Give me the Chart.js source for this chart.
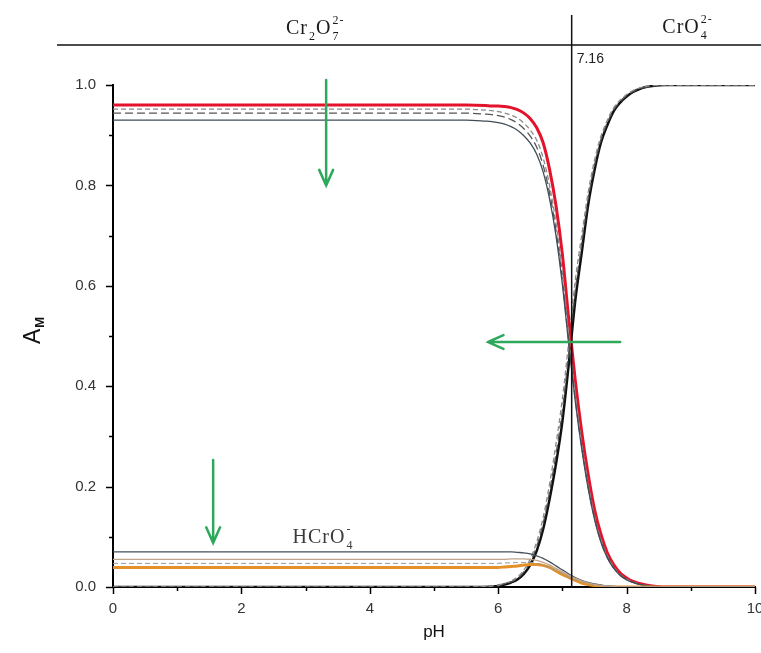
<!DOCTYPE html>
<html>
<head>
<meta charset="utf-8">
<script src="https://cdn.jsdelivr.net/npm/chart.js@4.4.1/dist/chart.umd.min.js"></script>
<style>
  body { margin: 0; background: #fff; }
</style>
</head>
<body>
<canvas id="myChart" width="761" height="653"></canvas>
<script>
const ch = document.getElementById('myChart').getContext('2d');

// pH sample points shared by every curve
const pH = [0, 1, 2, 3, 4, 5, 5.5,
    5.8, 5.9, 6.0, 6.1, 6.2, 6.3, 6.4, 6.5, 6.6, 6.7, 6.8, 6.9, 7.0, 7.1, 7.2, 7.3, 7.4,
    7.5, 7.6, 7.7, 7.8, 7.9, 8.0, 8.1, 8.2, 8.3, 8.4,
    8.6, 9, 10];

// Cr2O7 2- fraction (red = main curve, others = the grey family)
const cr2o7Red = [0.960, 0.960, 0.960, 0.960, 0.960, 0.960, 0.960,
    0.959, 0.958, 0.958, 0.957, 0.955, 0.951, 0.944, 0.933, 0.915, 0.885, 0.832, 0.760, 0.662, 0.532, 0.412, 0.310, 0.225,
    0.155, 0.105, 0.068, 0.044, 0.028, 0.018, 0.011, 0.007, 0.004, 0.002,
    0, 0, 0];
const cr2o7Gray1 = [0.952, 0.952, 0.952, 0.952, 0.952, 0.952, 0.952,
    0.950, 0.949, 0.947, 0.944, 0.940, 0.934, 0.924, 0.910, 0.890, 0.855, 0.800, 0.725, 0.625, 0.500, 0.385, 0.288, 0.207,
    0.142, 0.095, 0.062, 0.040, 0.025, 0.016, 0.010, 0.006, 0.003, 0.001,
    0, 0, 0];
const cr2o7Gray2 = [0.944, 0.944, 0.944, 0.944, 0.944, 0.944, 0.944,
    0.942, 0.941, 0.939, 0.936, 0.931, 0.924, 0.913, 0.898, 0.876, 0.840, 0.785, 0.710, 0.610, 0.488, 0.375, 0.280, 0.200,
    0.137, 0.091, 0.059, 0.038, 0.024, 0.015, 0.009, 0.005, 0.003, 0.001,
    0, 0, 0];
const cr2o7Slate = [0.930, 0.930, 0.930, 0.930, 0.930, 0.930, 0.930,
    0.928, 0.927, 0.925, 0.922, 0.917, 0.910, 0.899, 0.884, 0.862, 0.827, 0.773, 0.700, 0.602, 0.482, 0.370, 0.276, 0.197,
    0.135, 0.089, 0.058, 0.037, 0.023, 0.014, 0.009, 0.005, 0.003, 0.001,
    0, 0, 0];

// CrO4 2- fraction
const cro4Black = [0, 0, 0, 0, 0, 0, 0,
    0, 0.001, 0.002, 0.005, 0.009, 0.015, 0.026, 0.044, 0.072, 0.115, 0.175, 0.245, 0.330, 0.445, 0.570, 0.665, 0.760,
    0.830, 0.885, 0.920, 0.948, 0.965, 0.977, 0.986, 0.992, 0.996, 0.998,
    1, 1, 1];
const cro4Gray1 = [0, 0, 0, 0, 0, 0, 0,
    0.001, 0.002, 0.004, 0.007, 0.012, 0.020, 0.034, 0.056, 0.090, 0.138, 0.205, 0.285, 0.375, 0.490, 0.610, 0.700, 0.785,
    0.850, 0.898, 0.930, 0.955, 0.970, 0.981, 0.989, 0.994, 0.997, 0.999,
    1, 1, 1];
const cro4Gray2 = [0, 0, 0, 0, 0, 0, 0,
    0.001, 0.001, 0.003, 0.006, 0.010, 0.017, 0.030, 0.050, 0.081, 0.127, 0.190, 0.265, 0.352, 0.468, 0.590, 0.683, 0.772,
    0.840, 0.891, 0.925, 0.951, 0.967, 0.979, 0.987, 0.993, 0.996, 0.998,
    1, 1, 1];

// HCrO4 - fraction
const hcro4Slate = [0.070, 0.070, 0.070, 0.070, 0.070, 0.070, 0.070,
    0.070, 0.070, 0.070, 0.070, 0.070, 0.069, 0.068, 0.066, 0.062, 0.057, 0.050, 0.042, 0.034, 0.026, 0.019, 0.013, 0.009,
    0.006, 0.004, 0.002, 0.001, 0.0005, 0, 0, 0, 0, 0,
    0, 0, 0];
const hcro4Tan = [0.055, 0.055, 0.055, 0.055, 0.055, 0.055, 0.055,
    0.055, 0.055, 0.055, 0.055, 0.056, 0.056, 0.056, 0.055, 0.053, 0.049, 0.044, 0.037, 0.030, 0.023, 0.017, 0.012, 0.008,
    0.005, 0.003, 0.002, 0.001, 0, 0, 0, 0, 0, 0,
    0, 0, 0];
const hcro4Gray = [0.047, 0.047, 0.047, 0.047, 0.047, 0.047, 0.047,
    0.047, 0.047, 0.047, 0.048, 0.048, 0.049, 0.049, 0.049, 0.047, 0.044, 0.039, 0.033, 0.027, 0.020, 0.015, 0.010, 0.007,
    0.004, 0.002, 0.001, 0.0005, 0, 0, 0, 0, 0, 0,
    0, 0, 0];
const hcro4Orange = [0.039, 0.039, 0.039, 0.039, 0.039, 0.039, 0.039,
    0.039, 0.039, 0.039, 0.040, 0.041, 0.042, 0.044, 0.045, 0.045, 0.043, 0.039, 0.032, 0.025, 0.019, 0.013, 0.008, 0.005,
    0.003, 0.0015, 0.0005, 0, 0, 0, 0, 0, 0, 0,
    0, 0, 0];

// axis ticks
const xTicks = [0, 2, 4, 6, 8, 10];
const yTicks = [0, 0.2, 0.4, 0.6, 0.8, 1.0];

// annotations (data units)
const crossPH = 7.16;
const arrows = [
    { from: [3.32, 1.01], to: [3.32, 0.80] },
    { from: [1.56, 0.253], to: [1.56, 0.088] },
    { from: [7.90, 0.488], to: [5.84, 0.488] },
];

function pts(ys) {
    return pH.map((x, i) => ({ x: x, y: ys[i] }));
}

function line(ys, color, width, dash) {
    return {
        data: pts(ys),
        borderColor: color,
        borderWidth: width,
        borderDash: dash || [],
        pointRadius: 0,
        fill: false,
        cubicInterpolationMode: 'monotone',
    };
}

// draws text pieces with sub / super scripts, centred on cx
function drawChem(ctx, parts, cx, base, size) {
    const big = size + 'px "Liberation Serif", "Times New Roman", serif';
    const small = Math.round(size * 0.6) + 'px "Liberation Serif", "Times New Roman", serif';
    ctx.letterSpacing = '1px';
    let total = 0;
    parts.forEach(p => {
        if (p.main !== undefined) {
            ctx.font = big;
            total += ctx.measureText(p.main).width;
        } else {
            ctx.font = small;
            total += Math.max(ctx.measureText(p.sub || '').width, ctx.measureText(p.sup || '').width) + 1;
        }
    });
    let x = cx - total / 2;
    ctx.textAlign = 'left';
    ctx.textBaseline = 'alphabetic';
    parts.forEach(p => {
        if (p.main !== undefined) {
            ctx.font = big;
            ctx.fillText(p.main, x, base);
            x += ctx.measureText(p.main).width;
        } else {
            ctx.font = small;
            let w = 0;
            if (p.sub) { ctx.fillText(p.sub, x + 1, base + size * 0.3); w = ctx.measureText(p.sub).width; }
            if (p.sup) { ctx.fillText(p.sup, x + 1, base - size * 0.48); w = Math.max(w, ctx.measureText(p.sup).width); }
            x += w + 1;
        }
    });
    ctx.letterSpacing = '0px';
}

const annot = {
    id: 'annot',
    afterDatasetsDraw(chart) {
        const { ctx, chartArea, scales: { x, y } } = chart;
        ctx.save();

        // tick marks (major + minor), outward
        ctx.strokeStyle = '#000';
        ctx.lineWidth = 1.5;
        for (let v = 0; v <= 10; v += 1) {
            const px = Math.round(x.getPixelForValue(v)) + 0.5;
            const len = v % 2 === 0 ? 7 : 4;
            ctx.beginPath();
            ctx.moveTo(px, chartArea.bottom);
            ctx.lineTo(px, chartArea.bottom + len);
            ctx.stroke();
        }
        for (let k = 0; k <= 10; k++) {
            const py = Math.round(y.getPixelForValue(k / 10)) + 0.5;
            const len = k % 2 === 0 ? 7 : 4;
            ctx.beginPath();
            ctx.moveTo(chartArea.left, py);
            ctx.lineTo(chartArea.left - len, py);
            ctx.stroke();
        }

        // top separator and 7.16 marker
        const vx = x.getPixelForValue(crossPH) - 1;
        ctx.strokeStyle = '#111';
        ctx.lineWidth = 1.5;
        ctx.beginPath();
        ctx.moveTo(57, chartArea.top - 40);
        ctx.lineTo(chart.width, chartArea.top - 40);
        ctx.stroke();
        ctx.beginPath();
        ctx.moveTo(vx, chartArea.top - 70);
        ctx.lineTo(vx, chartArea.bottom);
        ctx.stroke();

        ctx.fillStyle = '#222';
        ctx.font = '14px "Liberation Sans", Arial, sans-serif';
        ctx.textAlign = 'left';
        ctx.textBaseline = 'alphabetic';
        ctx.fillText(crossPH.toFixed(2), vx + 5, chartArea.top - 22);

        // species labels
        ctx.fillStyle = '#1a1a1a';
        drawChem(ctx, [{ main: 'Cr' }, { sub: '2' }, { main: 'O' }, { sub: '7', sup: '2-' }],
            x.getPixelForValue(3.15), chartArea.top - 51, 20);
        drawChem(ctx, [{ main: 'CrO' }, { sub: '4', sup: '2-' }],
            x.getPixelForValue(8.95), chartArea.top - 52, 20);
        ctx.fillStyle = '#3a3a3a';
        drawChem(ctx, [{ main: 'HCrO' }, { sub: '4', sup: '-' }],
            x.getPixelForValue(3.27), y.getPixelForValue(0.088), 20);

        // green arrows
        ctx.strokeStyle = '#2ea85a';
        ctx.lineWidth = 2.5;
        ctx.lineCap = 'round';
        arrows.forEach(a => {
            const x1 = x.getPixelForValue(a.from[0]), y1 = y.getPixelForValue(a.from[1]);
            const x2 = x.getPixelForValue(a.to[0]), y2 = y.getPixelForValue(a.to[1]);
            const ang = Math.atan2(y2 - y1, x2 - x1);
            const hl = 17, spread = 0.42;
            ctx.beginPath();
            ctx.moveTo(x1, y1);
            ctx.lineTo(x2, y2);
            ctx.moveTo(x2 - hl * Math.cos(ang - spread), y2 - hl * Math.sin(ang - spread));
            ctx.lineTo(x2, y2);
            ctx.lineTo(x2 - hl * Math.cos(ang + spread), y2 - hl * Math.sin(ang + spread));
            ctx.stroke();
        });

        // axis titles
        ctx.fillStyle = '#111';
        ctx.font = '17px "Liberation Sans", Arial, sans-serif';
        ctx.textAlign = 'center';
        ctx.textBaseline = 'middle';
        ctx.fillText('pH', x.getPixelForValue(5), chartArea.bottom + 45);

        ctx.translate(30, 333);
        ctx.rotate(-Math.PI / 2);
        ctx.font = '23px "Liberation Sans", Arial, sans-serif';
        ctx.textAlign = 'left';
        ctx.textBaseline = 'alphabetic';
        ctx.fillText('A', -11, 10);
        const aw = ctx.measureText('A').width;
        ctx.font = 'bold 13px "Liberation Sans", Arial, sans-serif';
        ctx.fillText('M', -11 + aw + 1, 14);

        ctx.restore();
    }
};

const data = {
    datasets: [
        line(hcro4Tan, '#bfa58c', 1.3),
        line(hcro4Gray, '#8e9aa0', 1, [5, 3]),
        line(hcro4Slate, '#46525c', 1.3),
        line(hcro4Orange, '#e39128', 3),
        line(cr2o7Slate, '#3f4c57', 1.3),
        line(cr2o7Gray2, '#555555', 1.3, [8, 4]),
        line(cr2o7Gray1, '#8a8a8a', 1.3, [5, 3]),
        line(cr2o7Red, '#e3132b', 3),
        line(cro4Gray1, '#8a8a8a', 1.3, [5, 3]),
        line(cro4Gray2, '#555555', 1.3, [8, 4]),
        line(cro4Black, '#111111', 2.5),
    ]
};

const config = {
    type: 'line',
    data: data,
    options: {
        responsive: false,
        animation: false,
        layout: { padding: { left: 53, right: 6, top: 85, bottom: 26 } },
        plugins: { legend: { display: false }, tooltip: { enabled: false } },
        scales: {
            x: {
                type: 'linear',
                min: 0,
                max: 10,
                afterFit(s) { s.height = 40; s.paddingLeft = 0; s.paddingRight = 0; },
                afterBuildTicks(s) { s.ticks = xTicks.map(v => ({ value: v })); },
                grid: { display: false },
                border: { display: true, color: '#000', width: 2 },
                ticks: {
                    padding: 5,
                    color: '#333',
                    font: { family: '"Liberation Sans", Arial, sans-serif', size: 15 },
                    maxRotation: 0,
                    callback: v => String(v),
                },
            },
            y: {
                type: 'linear',
                min: 0,
                max: 1,
                afterFit(s) { s.width = 60; },
                afterBuildTicks(s) { s.ticks = yTicks.map(v => ({ value: v })); },
                grid: { display: false },
                border: { display: true, color: '#000', width: 2 },
                ticks: {
                    padding: 9,
                    color: '#333',
                    font: { family: '"Liberation Sans", Arial, sans-serif', size: 15 },
                    callback: v => v.toFixed(1),
                },
            },
        },
    },
    plugins: [annot],
};

const myChart = new Chart(ch, config);
</script>
</body>
</html>
